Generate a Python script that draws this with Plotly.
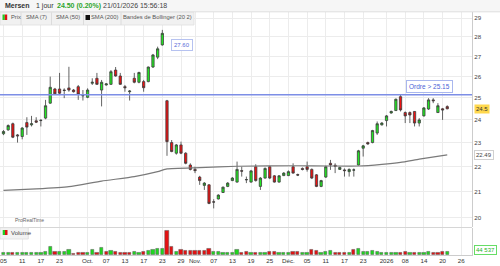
import math
import plotly.graph_objects as go

# ---------------- data ----------------
dates = [
    "2025-09-05", "2025-09-08", "2025-09-09", "2025-09-10", "2025-09-11", "2025-09-12",
    "2025-09-15", "2025-09-16", "2025-09-17", "2025-09-18", "2025-09-19", "2025-09-22",
    "2025-09-23", "2025-09-24", "2025-09-25", "2025-09-26", "2025-09-29", "2025-09-30",
    "2025-10-01", "2025-10-02", "2025-10-03", "2025-10-06", "2025-10-07", "2025-10-08",
    "2025-10-09", "2025-10-10", "2025-10-13", "2025-10-14", "2025-10-15", "2025-10-16",
    "2025-10-17", "2025-10-20", "2025-10-21", "2025-10-22", "2025-10-23", "2025-10-24",
    "2025-10-27", "2025-10-28", "2025-10-29", "2025-10-30", "2025-10-31",
    "2025-11-03", "2025-11-04", "2025-11-05", "2025-11-06", "2025-11-07", "2025-11-10",
    "2025-11-11", "2025-11-12", "2025-11-13", "2025-11-14", "2025-11-17", "2025-11-18",
    "2025-11-19", "2025-11-20", "2025-11-21", "2025-11-24", "2025-11-25", "2025-11-26",
    "2025-11-27", "2025-11-28",
    "2025-12-01", "2025-12-02", "2025-12-03", "2025-12-04", "2025-12-05", "2025-12-08",
    "2025-12-09", "2025-12-10", "2025-12-11", "2025-12-12", "2025-12-15", "2025-12-16",
    "2025-12-17", "2025-12-18", "2025-12-19", "2025-12-22", "2025-12-23", "2025-12-24",
    "2025-12-29", "2025-12-30", "2025-12-31",
    "2026-01-02", "2026-01-05", "2026-01-06", "2026-01-07", "2026-01-08", "2026-01-09",
    "2026-01-12", "2026-01-13", "2026-01-14", "2026-01-15", "2026-01-16", "2026-01-19",
    "2026-01-20", "2026-01-21",
]
future_dates = ["2026-01-22", "2026-01-23", "2026-01-26", "2026-01-27", "2026-01-28"]

opens = [23.39, 23.56, 23.83, 23.34, 23.27, 23.88, 23.78, 23.96, 23.97, 24.08,
         24.76, 25.42, 25.42, 25.37, 25.47, 25.37, 25.53, 25.10, 25.03, 25.69,
         25.93, 25.37, 25.61, 25.64, 26.33, 26.04, 25.53, 25.29, 25.93, 25.74,
         25.77, 25.77, 26.48, 26.97, 27.59, 24.87, 23.01, 22.56, 22.91, 22.56,
         22.07, 21.89, 21.58, 21.25, 21.27, 20.61, 20.72, 20.97, 21.21, 21.44,
         21.38, 21.84, 21.47, 21.38, 22.00, 21.21, 21.54, 22.00, 21.63, 21.38,
         21.64, 21.64, 22.00, 21.68, 21.93, 22.00, 21.89, 21.67, 21.21, 21.58,
         22.14, 22.06, 21.89, 21.87, 21.80, 21.86, 22.07, 22.77, 23.01, 23.01,
         23.42, 23.78, 23.97, 24.31, 24.42, 25.06, 24.33, 24.33, 24.38, 23.86,
         24.18, 24.49, 24.91, 24.33, 24.50, 24.60]
highs = [23.55, 23.80, 23.88, 23.38, 23.68, 24.12, 24.18, 24.12, 24.03, 24.91,
         26.01, 25.47, 26.19, 25.45, 26.49, 25.42, 25.61, 25.37, 25.45, 25.93,
         26.19, 25.85, 25.70, 26.33, 26.48, 26.19, 25.61, 25.37, 26.19, 26.25,
         25.85, 26.50, 27.13, 27.50, 28.37, 24.91, 23.12, 22.95, 23.05, 22.60,
         22.14, 22.00, 21.63, 21.38, 21.30, 20.71, 20.90, 21.20, 21.38, 21.58,
         22.21, 22.00, 21.60, 21.87, 22.10, 21.58, 21.97, 22.04, 21.66, 21.66,
         21.78, 21.85, 22.14, 21.72, 21.97, 22.21, 21.93, 21.70, 21.47, 22.04,
         22.28, 22.14, 22.00, 21.93, 21.93, 21.93, 22.70, 22.91, 23.05, 23.56,
         23.93, 23.90, 24.22, 24.42, 24.97, 25.14, 24.38, 24.38, 24.40, 24.08,
         24.58, 24.99, 24.99, 24.76, 24.54, 24.66]
lows = [23.33, 23.52, 23.20, 23.01, 23.15, 23.34, 23.71, 23.86, 23.71, 24.03,
        24.73, 25.14, 25.14, 24.99, 25.29, 25.25, 24.91, 24.88, 24.99, 25.61,
        25.61, 24.61, 25.58, 25.61, 26.01, 25.61, 25.29, 24.88, 25.69, 25.69,
        25.29, 25.74, 26.43, 26.87, 27.55, 22.45, 22.60, 22.50, 22.52, 22.10,
        21.85, 21.74, 21.27, 21.07, 20.52, 20.36, 20.70, 20.95, 21.18, 21.42,
        21.36, 21.60, 21.34, 21.36, 21.40, 21.07, 21.52, 21.50, 21.36, 21.36,
        21.62, 21.62, 21.72, 21.62, 21.85, 21.80, 21.50, 21.18, 21.18, 21.55,
        21.87, 21.74, 21.87, 21.60, 21.60, 21.60, 22.05, 22.42, 22.92, 22.98,
        23.34, 23.75, 23.71, 24.28, 24.40, 24.38, 23.86, 23.86, 23.71, 23.71,
        24.15, 24.45, 24.76, 24.31, 24.00, 24.48]
closes = [23.49, 23.75, 23.24, 23.30, 23.64, 23.68, 23.83, 23.90, 23.98, 24.64,
          25.50, 25.19, 25.22, 25.35, 25.37, 25.29, 25.17, 25.11, 25.37, 25.74,
          25.64, 25.74, 25.66, 26.25, 26.04, 25.64, 25.48, 25.32, 25.74, 26.21,
          25.48, 26.48, 27.08, 27.39, 28.19, 23.05, 22.63, 22.91, 22.56, 22.14,
          21.89, 21.84, 21.44, 21.34, 20.55, 20.60, 20.87, 21.18, 21.34, 21.54,
          21.89, 21.82, 21.48, 21.83, 21.44, 21.54, 21.93, 21.54, 21.38, 21.63,
          21.74, 21.80, 21.74, 21.66, 21.89, 21.89, 21.54, 21.21, 21.44, 22.00,
          22.07, 22.02, 21.97, 21.84, 21.89, 21.87, 22.66, 22.87, 22.95, 23.53,
          23.83, 23.86, 24.18, 24.38, 24.94, 24.45, 24.18, 24.22, 23.86, 24.00,
          24.54, 24.91, 24.87, 24.64, 24.45, 24.50]
volumes = [25000, 25000, 33000, 25000, 33000, 29000, 29000, 33000, 29000, 41000,
           103000, 41000, 41000, 41000, 66000, 21000, 33000, 33000, 33000, 66000,
           33000, 95000, 41000, 50000, 41000, 33000, 33000, 33000, 41000, 33000,
           41000, 50000, 66000, 74000, 83000, 301000, 103000, 45000, 66000, 50000,
           54000, 54000, 54000, 50000, 74000, 41000, 41000, 33000, 33000, 33000,
           66000, 33000, 41000, 33000, 33000, 33000, 33000, 41000, 41000, 33000,
           33000, 33000, 41000, 41000, 33000, 33000, 66000, 50000, 33000, 45000,
           50000, 33000, 33000, 33000, 33000, 62000, 74000, 41000, 41000, 50000,
           37000, 33000, 33000, 33000, 33000, 33000, 41000, 33000, 33000, 33000,
           33000, 45000, 33000, 33000, 41000, 44537]

sma200_dates = ["2025-09-05", "2025-09-16", "2025-09-25", "2025-10-06", "2025-10-15",
                "2025-10-22", "2025-10-24", "2025-11-04", "2025-11-14", "2025-12-03",
                "2025-12-12", "2025-12-22", "2025-12-31", "2026-01-07", "2026-01-13",
                "2026-01-21"]
sma200_values = [21.05, 21.11, 21.20, 21.42, 21.60, 21.80, 21.91, 21.96, 22.02, 22.04,
                 22.03, 22.03, 22.10, 22.18, 22.31, 22.49]

tick_dates = ["2025-09-05", "2025-09-11", "2025-09-17", "2025-09-23", "2025-10-01",
              "2025-10-07", "2025-10-13", "2025-10-17", "2025-10-23", "2025-10-29",
              "2025-11-03", "2025-11-07", "2025-11-13", "2025-11-19", "2025-11-25",
              "2025-12-01", "2025-12-05", "2025-12-11", "2025-12-17", "2025-12-23",
              "2026-01-02", "2026-01-08", "2026-01-14", "2026-01-20", "2026-01-26"]
tick_labels = ["05", "11", "17", "23", "Oct.", "07", "13", "17", "23", "29",
               "Nov.", "07", "13", "19", "25", "Déc.", "05", "11", "17", "23",
               "2026", "08", "14", "20", "26"]
price_ticks = [20, 21, 22, 23, 24, 25, 26, 27, 28, 29]

order_level = 25.15
alert_level = 27.60
last_price_label = "24.5"
sma200_label = "22.49"
last_volume_label = "44 537"

# ---------------- geometry helpers ----------------
W, H = 500, 266
PLOT_R = 472.0
def fx(p):  # pixel x -> paper
    return p / W
def fy(p):  # pixel y -> paper
    return 1 - p / H

axis_dates = dates + future_dates
pos = {d: i for i, d in enumerate(axis_dates)}
xi = [pos[d] for d in dates]
x_range = [-0.75, 100.3]

vol_colors = []
for i in range(len(closes)):
    ref = closes[i - 1] if i > 0 else opens[i]
    vol_colors.append("#1fd81f" if closes[i] >= ref else "#e41212")

FONT = "Liberation Sans, Arial, sans-serif"
GRID = "#ececec"

fig = go.Figure()
fig.add_trace(go.Candlestick(
    x=xi, open=opens, high=highs, low=lows, close=closes,
    increasing=dict(fillcolor="#22e822", line=dict(color="#3c3c3c", width=0.8)),
    decreasing=dict(fillcolor="#ee1111", line=dict(color="#3c3c3c", width=0.8)),
    whiskerwidth=0, xaxis="x", yaxis="y", showlegend=False, hoverinfo="skip"))
fig.add_trace(go.Scatter(
    x=[pos[d] for d in sma200_dates], y=sma200_values, mode="lines",
    line=dict(color="#7a7a7a", width=1.2, shape="spline", smoothing=0.5),
    xaxis="x", yaxis="y", showlegend=False, hoverinfo="skip"))
fig.add_trace(go.Scatter(
    x=x_range, y=[order_level, order_level], mode="lines",
    line=dict(color="#7d8ee6", width=1.5),
    xaxis="x", yaxis="y", showlegend=False, hoverinfo="skip"))
fig.add_trace(go.Bar(
    x=xi, y=volumes, width=0.7,
    marker=dict(color=vol_colors, line=dict(color="#555555", width=0.5)),
    xaxis="x2", yaxis="y2", showlegend=False, hoverinfo="skip"))

price_dom = [fy(227), fy(12)]
vol_dom = [fy(255), fy(227.7)]

common_x = dict(range=x_range, tickvals=[pos[d] for d in tick_dates],
                showgrid=True, gridcolor=GRID, gridwidth=1, zeroline=False,
                domain=[0, PLOT_R / W], ticks="", fixedrange=True)
fig.update_layout(
    width=W, height=H, margin=dict(l=0, r=0, t=0, b=0),
    paper_bgcolor="white", plot_bgcolor="white",
    font=dict(family=FONT, size=6, color="#444"),
    showlegend=False, bargap=0,
    xaxis=dict(**common_x, anchor="y", showticklabels=False,
               rangeslider=dict(visible=False)),
    xaxis2=dict(**common_x, anchor="y2", showticklabels=True, ticktext=tick_labels,
                tickfont=dict(size=6.2, color="#333"), showline=True,
                linecolor="#cccccc", linewidth=1),
    yaxis=dict(domain=price_dom, type="log",
               range=[math.log10(19.668), math.log10(29.33)],
               side="right", anchor="x", tickvals=price_ticks,
               ticktext=[str(v) for v in price_ticks],
               tickfont=dict(size=6.2, color="#444"), showgrid=True, gridcolor=GRID,
               showline=True, linecolor="#cccccc", zeroline=False, ticks="",
               fixedrange=True),
    yaxis2=dict(domain=vol_dom, range=[0, 338000], side="right", anchor="x2",
                showticklabels=False, showgrid=False, zeroline=False,
                showline=True, linecolor="#cccccc", fixedrange=True),
)

shapes = []
# header band
shapes.append(dict(type="rect", xref="paper", yref="paper", x0=0, x1=1,
                   y0=fy(11.5), y1=1, fillcolor="#f6f6f6",
                   line=dict(width=0), layer="above"))
shapes.append(dict(type="line", xref="paper", yref="paper", x0=0, x1=1,
                   y0=fy(11.8), y1=fy(11.8), line=dict(color="#dddddd", width=1),
                   layer="above"))
# legend bar
shapes.append(dict(type="rect", xref="paper", yref="paper", x0=0, x1=fx(194),
                   y0=fy(25), y1=fy(12.3), fillcolor="#f1f1f1",
                   line=dict(color="#e0e0e0", width=0.8), layer="above"))
for sx in [21.0, 51.5, 83.5, 121.0]:
    shapes.append(dict(type="line", xref="paper", yref="paper", x0=fx(sx), x1=fx(sx),
                       y0=fy(25), y1=fy(12.3), line=dict(color="#dcdcdc", width=1),
                       layer="above"))
shapes.append(dict(type="rect", xref="paper", yref="paper", x0=fx(2.5), x1=fx(4.8),
                   y0=fy(20), y1=fy(14.5), fillcolor="#22cc22", line=dict(width=0),
                   layer="above"))
shapes.append(dict(type="rect", xref="paper", yref="paper", x0=fx(4.8), x1=fx(7.2),
                   y0=fy(20), y1=fy(14.5), fillcolor="#dd1111", line=dict(width=0),
                   layer="above"))
shapes.append(dict(type="rect", xref="paper", yref="paper", x0=fx(85.5), x1=fx(90),
                   y0=fy(20), y1=fy(15), fillcolor="#111111", line=dict(width=0),
                   layer="above"))
# volume panel top border + legend box
shapes.append(dict(type="line", xref="paper", yref="paper", x0=0, x1=fx(PLOT_R),
                   y0=fy(227.5), y1=fy(227.5), line=dict(color="#d6d6d6", width=1),
                   layer="above"))
shapes.append(dict(type="rect", xref="paper", yref="paper", x0=0, x1=fx(28.3),
                   y0=fy(239), y1=fy(227.7), fillcolor="#f2f2f2",
                   line=dict(color="#dddddd", width=0.8), layer="above"))
shapes.append(dict(type="rect", xref="paper", yref="paper", x0=fx(2.7), x1=fx(5),
                   y0=fy(235), y1=fy(230), fillcolor="#22cc22", line=dict(width=0),
                   layer="above"))
shapes.append(dict(type="rect", xref="paper", yref="paper", x0=fx(5), x1=fx(7.5),
                   y0=fy(235), y1=fy(230), fillcolor="#dd1111", line=dict(width=0),
                   layer="above"))
fig.update_layout(shapes=shapes)

ann = []
def txt(x, y, s, size=6, color="#444", bold=False, **kw):
    d = dict(xref="paper", yref="paper", x=fx(x), y=fy(y), text=(f"<b>{s}</b>" if bold else s),
             showarrow=False, xanchor="left", yanchor="middle",
             font=dict(family=FONT, size=size, color=color))
    d.update(kw)
    ann.append(d)

# header
txt(2.5, 6, "Mersen", size=7, color="#333", bold=True)
txt(34, 6, "1 jour", size=7, color="#333")
txt(55, 6, "24.50 (0.20%)", size=7, color="#2ca52c", bold=True)
txt(101, 6, "21/01/2026 15:56:18", size=7, color="#444")
# legend
txt(9, 17.5, "Prix", size=5.8, color="#555")
txt(36.3, 17.5, "SMA (7)", size=5.8, color="#555", xanchor="center")
txt(67.5, 17.5, "SMA (50)", size=5.8, color="#555", xanchor="center")
txt(104, 17.5, "SMA (200)", size=5.8, color="#555", xanchor="center")
txt(157.5, 17.5, "Bandes de Bollinger (20 2)", size=5.8, color="#555", xanchor="center")
txt(9.3, 232.5, "Volume", color="#444")
txt(12.5, 219.5, "ProRealTime", size=5, color="#666")

# order / alert labels
ann.append(dict(xref="paper", yref="paper", x=fx(429.5), y=fy(86.5), text="Ordre > 25.15",
                showarrow=False, xanchor="center", yanchor="middle",
                font=dict(family=FONT, size=6.5, color="#4a5fd6"), bgcolor="white",
                bordercolor="#a9b7ee", borderwidth=1, borderpad=2))
ann.append(dict(xref="paper", yref="y", x=fx(182), y=math.log10(alert_level), text="27.60",
                showarrow=False, xanchor="center", yanchor="middle",
                font=dict(family=FONT, size=6, color="#5b6bd8"), bgcolor="white",
                bordercolor="#b6c2f0", borderwidth=1, borderpad=2))
# right axis value boxes
ann.append(dict(xref="paper", yref="y", x=fx(474), y=math.log10(closes[-1]),
                text=last_price_label, showarrow=False, xanchor="left", yanchor="middle",
                font=dict(family=FONT, size=6, color="#333"), bgcolor="#ffd84d",
                borderpad=1))
ann.append(dict(xref="paper", yref="y", x=fx(474), y=math.log10(sma200_values[-1]),
                text=sma200_label, showarrow=False, xanchor="left", yanchor="middle",
                font=dict(family=FONT, size=6, color="#444"), bgcolor="white",
                bordercolor="#d0d0d0", borderwidth=1, borderpad=1))
ann.append(dict(xref="paper", yref="paper", x=fx(473.5), y=fy(250),
                text=last_volume_label, showarrow=False, xanchor="left", yanchor="middle",
                font=dict(family=FONT, size=6, color="#1fb51f"), bgcolor="white",
                bordercolor="#66dd66", borderwidth=1, borderpad=1))
fig.update_layout(annotations=ann)

fig.write_html("out.html")
